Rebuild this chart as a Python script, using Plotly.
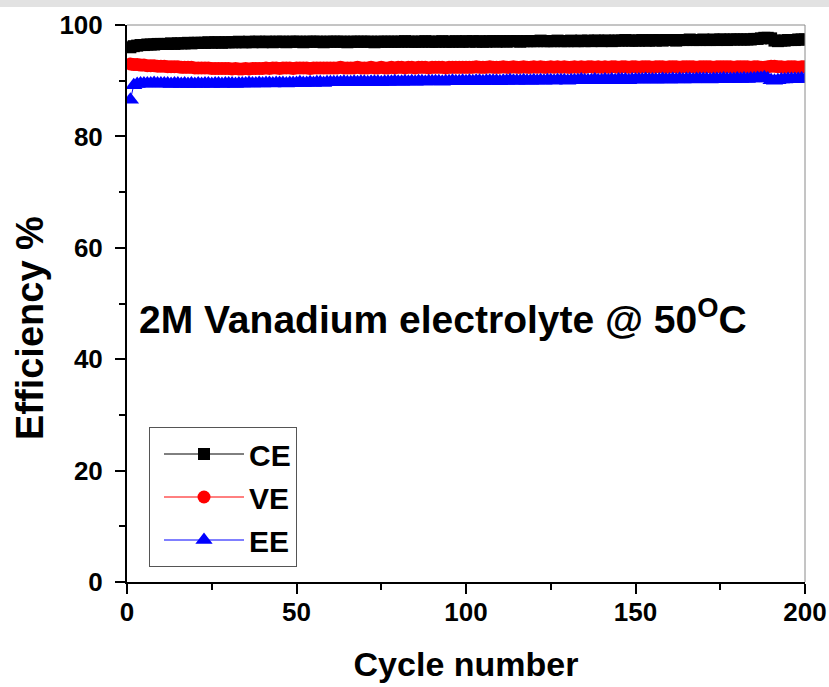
import plotly.graph_objects as go

cycles = list(range(1, 201))

ce = [
    96.0, 96.2, 96.3, 96.4, 96.4, 96.5, 96.5, 96.5, 96.6, 96.6, 96.6, 96.6, 96.7, 96.6, 96.7, 96.7, 96.7, 96.8, 96.7, 96.8,
    96.8, 96.8, 96.8, 96.9, 96.8, 96.9, 96.9, 96.8, 96.9, 96.9, 96.9, 96.9, 97.0, 96.9, 96.9, 97.0, 96.9, 97.0, 97.0, 96.9,
    97.0, 97.0, 96.9, 97.0, 97.0, 97.0, 96.9, 97.0, 97.0, 97.0, 97.0, 96.9, 97.0, 97.0, 97.0, 97.0, 97.0, 96.9, 97.0, 97.0,
    97.0, 97.0, 97.0, 97.0, 96.9, 97.0, 97.0, 97.0, 97.0, 97.0, 97.0, 97.0, 96.9, 97.0, 97.0, 97.0, 97.0, 97.0, 97.0, 97.0,
    97.0, 97.1, 97.0, 97.0, 97.0, 97.0, 97.0, 97.1, 97.0, 97.0, 97.0, 97.0, 97.1, 97.0, 97.0, 97.0, 97.1, 97.0, 97.0, 97.1,
    97.0, 97.1, 97.0, 97.1, 97.0, 97.0, 97.1, 97.1, 97.0, 97.1, 97.1, 97.0, 97.1, 97.1, 97.1, 97.0, 97.1, 97.1, 97.1, 97.1,
    97.1, 97.2, 97.1, 97.1, 97.1, 97.1, 97.2, 97.1, 97.1, 97.1, 97.2, 97.1, 97.1, 97.2, 97.1, 97.2, 97.1, 97.2, 97.2, 97.1,
    97.2, 97.2, 97.1, 97.2, 97.2, 97.2, 97.3, 97.2, 97.2, 97.2, 97.2, 97.3, 97.2, 97.2, 97.3, 97.2, 97.3, 97.2, 97.3, 97.3,
    97.3, 97.2, 97.3, 97.3, 97.3, 97.4, 97.3, 97.3, 97.3, 97.4, 97.3, 97.3, 97.4, 97.3, 97.4, 97.4, 97.3, 97.4, 97.4, 97.4,
    97.4, 97.4, 97.4, 97.4, 97.5, 97.5, 97.6, 97.7, 97.7, 97.6, 97.2, 97.1, 97.2, 97.2, 97.3, 97.3, 97.3, 97.4, 97.4, 97.4,
]

ve = [
    93.0, 92.9, 92.9, 92.8, 92.8, 92.7, 92.7, 92.7, 92.6, 92.6, 92.6, 92.5, 92.5, 92.5, 92.5, 92.4, 92.4, 92.4, 92.4, 92.3,
    92.3, 92.3, 92.3, 92.3, 92.2, 92.2, 92.2, 92.2, 92.2, 92.2, 92.1, 92.2, 92.1, 92.1, 92.2, 92.1, 92.2, 92.2, 92.2, 92.2,
    92.3, 92.2, 92.3, 92.3, 92.2, 92.3, 92.3, 92.3, 92.2, 92.3, 92.3, 92.3, 92.3, 92.2, 92.3, 92.3, 92.3, 92.3, 92.3, 92.3,
    92.3, 92.3, 92.4, 92.3, 92.3, 92.3, 92.3, 92.4, 92.3, 92.3, 92.3, 92.4, 92.3, 92.3, 92.4, 92.3, 92.3, 92.4, 92.3, 92.4,
    92.4, 92.3, 92.4, 92.4, 92.3, 92.4, 92.4, 92.4, 92.3, 92.4, 92.4, 92.4, 92.4, 92.3, 92.4, 92.4, 92.4, 92.4, 92.4, 92.4,
    92.4, 92.4, 92.5, 92.4, 92.4, 92.4, 92.5, 92.4, 92.4, 92.4, 92.5, 92.4, 92.4, 92.5, 92.4, 92.4, 92.5, 92.4, 92.4, 92.5,
    92.4, 92.5, 92.4, 92.4, 92.5, 92.4, 92.5, 92.4, 92.5, 92.4, 92.4, 92.5, 92.4, 92.5, 92.4, 92.5, 92.5, 92.4, 92.5, 92.4,
    92.5, 92.4, 92.5, 92.5, 92.4, 92.5, 92.5, 92.4, 92.5, 92.5, 92.4, 92.5, 92.5, 92.5, 92.4, 92.5, 92.5, 92.5, 92.4, 92.5,
    92.5, 92.5, 92.4, 92.5, 92.5, 92.5, 92.5, 92.4, 92.5, 92.5, 92.5, 92.5, 92.4, 92.5, 92.5, 92.5, 92.5, 92.5, 92.4, 92.5,
    92.5, 92.5, 92.5, 92.4, 92.5, 92.5, 92.4, 92.4, 92.5, 92.6, 92.6, 92.5, 92.5, 92.4, 92.5, 92.5, 92.5, 92.4, 92.5, 92.5,
]

ee = [
    86.6, 89.2, 89.4, 89.5, 89.5, 89.5, 89.5, 89.6, 89.5, 89.5, 89.5, 89.5, 89.4, 89.5, 89.5, 89.4, 89.5, 89.4, 89.5, 89.4,
    89.5, 89.4, 89.5, 89.5, 89.4, 89.5, 89.5, 89.4, 89.5, 89.5, 89.5, 89.4, 89.5, 89.5, 89.5, 89.6, 89.5, 89.5, 89.6, 89.5,
    89.6, 89.6, 89.5, 89.6, 89.6, 89.6, 89.5, 89.6, 89.6, 89.6, 89.7, 89.6, 89.6, 89.7, 89.6, 89.7, 89.7, 89.6, 89.7, 89.7,
    89.7, 89.7, 89.7, 89.8, 89.7, 89.7, 89.8, 89.7, 89.8, 89.8, 89.7, 89.8, 89.8, 89.8, 89.7, 89.8, 89.8, 89.8, 89.9, 89.8,
    89.8, 89.9, 89.8, 89.9, 89.8, 89.9, 89.9, 89.8, 89.9, 89.9, 89.9, 89.9, 89.8, 89.9, 89.9, 90.0, 89.9, 89.9, 90.0, 89.9,
    90.0, 89.9, 90.0, 90.0, 89.9, 90.0, 90.0, 90.0, 90.0, 89.9, 90.0, 90.0, 90.1, 90.0, 90.0, 90.0, 90.1, 90.0, 90.0, 90.1,
    90.0, 90.1, 90.0, 90.1, 90.1, 90.0, 90.1, 90.1, 90.1, 90.0, 90.1, 90.1, 90.1, 90.2, 90.1, 90.1, 90.1, 90.2, 90.1, 90.1,
    90.2, 90.1, 90.2, 90.1, 90.2, 90.2, 90.2, 90.1, 90.2, 90.2, 90.2, 90.2, 90.3, 90.2, 90.2, 90.2, 90.2, 90.3, 90.2, 90.2,
    90.3, 90.2, 90.3, 90.2, 90.3, 90.3, 90.2, 90.3, 90.3, 90.3, 90.3, 90.2, 90.3, 90.3, 90.3, 90.4, 90.3, 90.3, 90.3, 90.4,
    90.3, 90.4, 90.3, 90.4, 90.4, 90.5, 90.5, 90.6, 90.4, 90.1, 90.0, 90.1, 90.2, 90.2, 90.3, 90.3, 90.3, 90.3, 90.4, 90.3,
]

series_names = ["CE", "VE", "EE"]
x_ticks = [0, 50, 100, 150, 200]
y_ticks = [0, 20, 40, 60, 80, 100]

FONT = "Arial, 'Liberation Sans', sans-serif"

fig = go.Figure()
styles = [
    ("black", "square", 12),
    ("red", "circle", 13),
    ("blue", "triangle-up", 15),
]
for name, vals, (col, sym, sz) in zip(series_names, [ce, ve, ee], styles):
    fig.add_trace(go.Scatter(
        x=cycles, y=vals, name=name, mode="lines+markers",
        legendgroup=name,
        line=dict(color=col, width=1),
        marker=dict(color=col, symbol=sym, size=sz, line=dict(width=0)),
    ))

axis_common = dict(
    showgrid=False, zeroline=False, showline=True, linecolor="black", linewidth=2,
    ticks="outside", ticklen=10, tickwidth=1.5, tickcolor="black",
    tickfont=dict(family=FONT, size=26, color="black", weight="bold"),
    mirror=False,
)

fig.update_layout(
    width=829, height=687,
    margin=dict(l=127, r=24, t=25, b=105, autoexpand=False),
    paper_bgcolor="white", plot_bgcolor="white",
    xaxis=dict(range=[0, 200], tickvals=x_ticks, ticklabelstandoff=-4,
               minor=dict(ticks="outside", ticklen=6, tickwidth=1.5, tickcolor="black", dtick=25),
               title=dict(text="Cycle number", font=dict(family=FONT, size=34, color="black", weight="bold"),
                          standoff=26),
               **axis_common),
    yaxis=dict(range=[0, 100], tickvals=y_ticks, ticklabelstandoff=7,
               minor=dict(ticks="outside", ticklen=6, tickwidth=1.5, tickcolor="black", dtick=10),
               **axis_common),
    showlegend=True,
    legend=dict(
        x=(149 - 127) / 678, y=(582 - 427) / 557, xanchor="left", yanchor="top",
        bordercolor="#555555", borderwidth=1, bgcolor="white",
        font=dict(family=FONT, size=30, color="black", weight="bold"),
        itemwidth=80, tracegroupgap=1, indentation=9,
    ),
    shapes=[
        dict(type="rect", xref="paper", yref="paper", x0=-0.2, x1=1.1,
             y0=(582 - 7) / 557, y1=1.06, fillcolor="#e2e2e2", line=dict(width=0), layer="below"),
        dict(type="line", xref="paper", yref="paper", x0=0, x1=1, y0=1, y1=1,
             line=dict(color="#8a8a8a", width=1)),
        dict(type="line", xref="paper", yref="paper", x0=1, x1=1, y0=0, y1=1,
             line=dict(color="#8a8a8a", width=1)),
    ],
    annotations=[
        dict(text="2M Vanadium electrolyte @ 50<sup>O</sup>C", x=2.95, y=47.7, xref="x", yref="y",
             xanchor="left", yanchor="middle", showarrow=False,
             font=dict(family=FONT, size=39, color="black", weight="bold")),
        dict(text="Efficiency %", x=(30 - 127) / 678, y=(582 - 328) / 557, xref="paper", yref="paper",
             xanchor="center", yanchor="middle", textangle=-90, showarrow=False,
             font=dict(family=FONT, size=38, color="black", weight="bold")),
    ],
)

fig.write_html("out.html")
